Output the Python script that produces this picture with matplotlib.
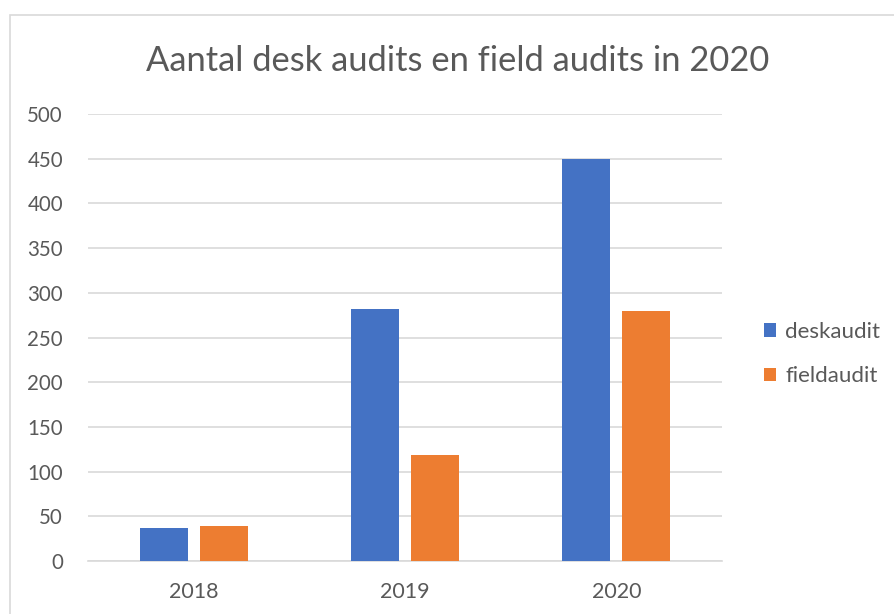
import matplotlib.pyplot as plt
import numpy as np
from matplotlib.patches import Rectangle

years = ['2018', '2019', '2020']
deskaudit = [37, 282, 450]
fieldaudit = [39, 119, 280]
yticks = [0, 50, 100, 150, 200, 250, 300, 350, 400, 450, 500]

plt.rcParams['font.family'] = ['Lato', 'DejaVu Sans']

fig = plt.figure(figsize=(8.95, 6.14), dpi=100)
W, H = 895, 614
ax = fig.add_axes([88 / W, (H - 561) / H, 634 / W, 447 / H])

# chart border
fig.patches.append(Rectangle((10 / W, -0.05), 1.1, (H - 15) / H + 0.05,
                             transform=fig.transFigure, fill=False,
                             edgecolor='#d9d9d9', linewidth=1.2))

x = np.arange(len(years))
w = 0.227
ax.bar(x - 0.142, deskaudit, w, color='#4472c4', label='deskaudit', zorder=3)
ax.bar(x + 0.142, fieldaudit, w, color='#ed7d31', label='fieldaudit', zorder=3)

ax.set_xlim(-0.5, 2.5)
ax.set_ylim(0, 500)
ax.set_yticks(yticks)
ax.set_xticks(x)
ax.set_xticklabels(years)
ax.grid(axis='y', color='#d9d9d9', linewidth=1.2, zorder=0)
for s in ['top', 'right', 'left']:
    ax.spines[s].set_visible(False)
ax.spines['bottom'].set_color('#d9d9d9')
ax.spines['bottom'].set_linewidth(1.2)
ax.tick_params(length=0, labelsize=15.5, colors='#595959')
ax.tick_params(axis='x', pad=15)
ax.tick_params(axis='y', pad=18, labelsize=14.8)

fig.text(458 / W, 1 - 61 / H, 'Aantal desk audits en field audits in 2020',
         ha='center', va='center', fontsize=24.8, color='#595959')

ax.legend(loc='center left', bbox_to_anchor=(753 / W, 1 - 354 / H),
          bbox_transform=fig.transFigure, frameon=False, fontsize=16,
          labelcolor='#595959', handlelength=0.55, handleheight=0.55,
          handletextpad=0.4, labelspacing=1.1, borderpad=0)

fig.savefig('out.png', dpi=100)
